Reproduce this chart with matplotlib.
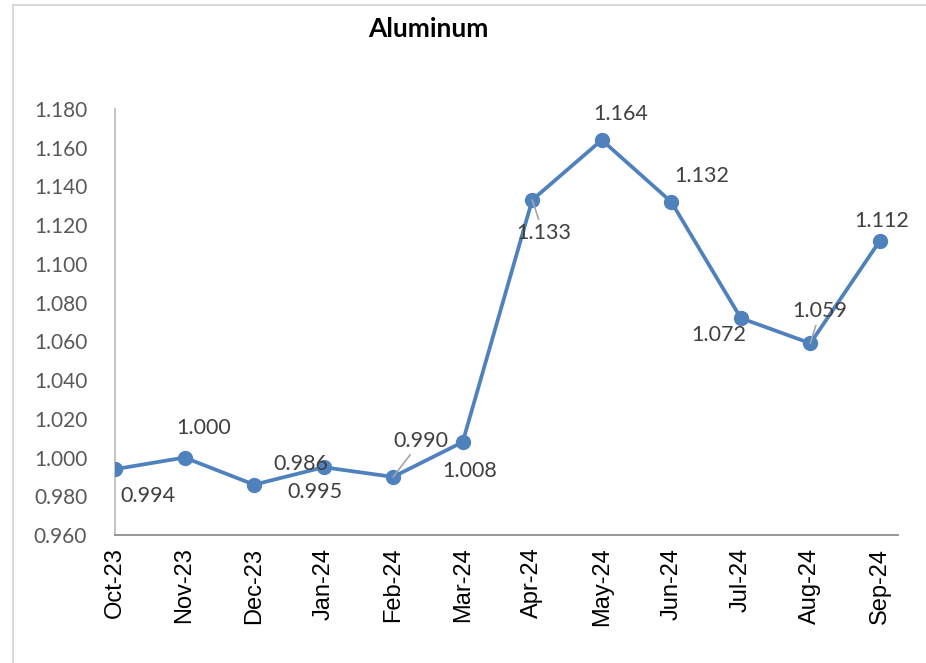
import matplotlib
matplotlib.use('Agg')
import matplotlib.pyplot as plt
from matplotlib.patches import Rectangle

# data
months = ['Oct-23', 'Nov-23', 'Dec-23', 'Jan-24', 'Feb-24', 'Mar-24',
          'Apr-24', 'May-24', 'Jun-24', 'Jul-24', 'Aug-24', 'Sep-24']
prices = [0.994, 1.000, 0.986, 0.995, 0.990, 1.008,
          1.133, 1.164, 1.132, 1.072, 1.059, 1.112]
y_ticks = [0.960, 0.980, 1.000, 1.020, 1.040, 1.060, 1.080,
           1.100, 1.120, 1.140, 1.160, 1.180]

# label offsets in points (placement only), and which ones get a leader line
label_offsets = [(24, -19), (14, 21), (34, 15), (-6, -18), (20, 26), (5, -21),
                 (8, -24), (14, 19), (22, 19), (-16, -12), (7, 23), (1, 14)]
leaders = [False, False, False, False, True, False,
           True, False, False, False, True, False]

line_color = '#4F81BD'

fig = plt.figure(figsize=(9.26, 6.63), dpi=100)
ax = fig.add_axes([115/926, 1 - 535/663, (898 - 115)/926, (535 - 109)/663])

x = list(range(len(months)))
ax.plot(x, prices, color=line_color, linewidth=2.7, marker='o',
        markersize=10, markeredgecolor=line_color, zorder=3)

for i, (v, off, lead) in enumerate(zip(prices, label_offsets, leaders)):
    props = None
    if lead:
        props = dict(arrowstyle='-', color='#A6A6A6', lw=1.2,
                     shrinkA=1, shrinkB=0)
    ax.annotate(f'{v:.3f}', (i, v), xytext=off, textcoords='offset points',
                ha='center', va='center', fontsize=15.5, family='Lato',
                color='#404040', arrowprops=props, zorder=4)

ax.set_xlim(0, len(months) - 1 + 0.26)
ax.set_ylim(0.960, 1.180)
ax.set_yticks(y_ticks)
ax.set_yticklabels([f'{t:.3f}' for t in y_ticks], family='Lato',
                   fontsize=15, color='#595959')
ax.set_xticks(x)
ax.set_xticklabels(months, rotation=90, family='Liberation Sans',
                   fontsize=17, color='black', ha='center', va='top')
ax.tick_params(axis='y', length=0, pad=20)
ax.tick_params(axis='x', length=0, pad=9)

for side in ['top', 'right']:
    ax.spines[side].set_visible(False)
ax.spines['left'].set_color('#BFBFBF')
ax.spines['left'].set_linewidth(1.3)
ax.spines['bottom'].set_color('#8C8C8C')
ax.spines['bottom'].set_linewidth(1.3)

fig.text(428/926, 1 - 29/663, 'Aluminum', ha='center', va='center',
         fontsize=19, fontweight='bold', family='Lato', color='black')

# outer chart frame (right/bottom edges fall outside the picture)
fig.patches.append(Rectangle((13/926, -0.05), 1.0, 1 - 5/663 + 0.05,
                             transform=fig.transFigure, fill=False,
                             edgecolor='#D9D9D9', linewidth=1.5))

fig.savefig('out.png', dpi=100)
